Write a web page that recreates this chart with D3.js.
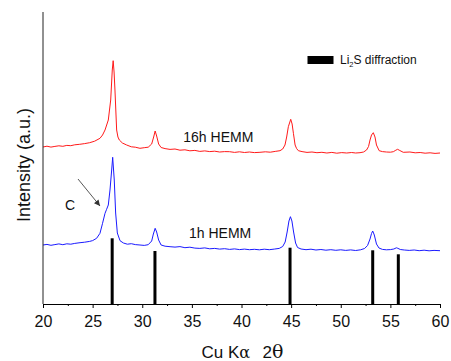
<!DOCTYPE html>
<html>
<head>
<meta charset="utf-8">
<script src="https://cdn.jsdelivr.net/npm/d3@7.9.0/dist/d3.min.js"></script>
<style>
  body { margin: 0; background: #fff; }
  svg { display: block; font-family: "Liberation Sans", Arial, sans-serif; }
</style>
</head>
<body>
<div id="chart"></div>
<script>
// XRD patterns (intensity in arbitrary units)
const twoTheta16h = [20.0, 20.4, 20.8, 21.2, 21.6, 22.0, 22.4, 22.8, 23.2, 23.7, 24.2, 24.7, 25.2, 25.74, 26.0, 26.25, 26.58, 26.82, 26.98, 27.07, 27.16, 27.25, 27.42, 27.55, 27.69, 28.0, 28.43, 28.9, 29.3, 29.77, 30.2, 30.6, 30.95, 31.15, 31.3, 31.45, 31.65, 31.9, 32.3, 32.8, 33.3, 33.8, 34.3, 34.8, 35.3, 35.8, 36.3, 36.8, 37.3, 37.8, 38.3, 38.8, 39.3, 39.8, 40.3, 40.8, 41.3, 41.86, 42.4, 42.9, 43.4, 43.88, 44.15, 44.38, 44.55, 44.72, 44.96, 45.1, 45.23, 45.4, 45.55, 45.73, 46.1, 46.6, 47.1, 47.6, 48.1, 48.6, 49.1, 49.6, 50.1, 50.6, 51.1, 51.5, 51.94, 52.3, 52.6, 52.8, 52.95, 53.1, 53.28, 53.45, 53.6, 53.87, 54.2, 54.6, 55.0, 55.3, 55.55, 55.73, 55.95, 56.3, 56.97, 57.5, 58.0, 58.5, 59.0, 59.5, 60.0];
const intensity16h = [157, 157.8, 156.9, 157.6, 158.2, 157.7, 158.6, 158.3, 159.2, 159.7, 160.4, 161.3, 162.8, 165.7, 169, 174, 184, 204, 234, 243.3, 232, 214, 174, 167, 164, 161, 159, 157.2, 156.8, 155.7, 156.3, 156.8, 160, 167, 173, 168, 160, 156.5, 155.4, 154.6, 155, 153.8, 154.2, 153.2, 153.6, 152.6, 153.1, 152.4, 152.8, 152, 152.4, 152.3, 151.6, 152.2, 151.5, 152, 151.4, 151.7, 152.2, 151.8, 152.6, 153.3, 155, 159, 167, 177.3, 184.7, 180, 170.7, 159, 155.5, 153.3, 152.4, 151.6, 152, 151.3, 151.7, 151, 151.6, 150.8, 151.4, 151, 151.5, 151, 151.3, 152, 154, 157.5, 164, 169, 171.3, 167, 159, 153.3, 152.4, 152, 151.8, 152.3, 153.8, 154.7, 153.5, 151.7, 152, 151.2, 151.5, 150.8, 151.2, 150.6, 151];

const twoTheta1h = [20.0, 20.4, 20.8, 21.2, 21.6, 22.0, 22.4, 22.8, 23.2, 23.73, 24.2, 24.7, 25.0, 25.4, 25.74, 26.0, 26.25, 26.41, 26.58, 26.75, 26.92, 27.02, 27.18, 27.32, 27.49, 27.76, 28.1, 28.5, 28.9, 29.3, 29.77, 30.2, 30.6, 30.95, 31.12, 31.3, 31.45, 31.65, 31.9, 32.3, 32.8, 33.3, 33.8, 34.3, 34.8, 35.3, 35.8, 36.3, 36.8, 37.3, 37.8, 38.3, 38.8, 39.3, 39.8, 40.3, 40.8, 41.3, 41.8, 42.3, 42.8, 43.3, 43.8, 44.15, 44.4, 44.6, 44.78, 44.93, 45.08, 45.25, 45.45, 45.65, 46.0, 46.5, 47.0, 47.5, 48.0, 48.5, 49.0, 49.5, 50.0, 50.5, 51.0, 51.5, 52.0, 52.4, 52.7, 52.95, 53.1, 53.22, 53.38, 53.6, 53.85, 54.2, 54.6, 55.0, 55.35, 55.6, 55.75, 56.0, 56.4, 56.9, 57.4, 57.9, 58.4, 58.9, 59.4, 60.0];
const intensity1h = [59, 59.6, 58.7, 59.4, 60.1, 59.3, 60.2, 59.8, 60.6, 61.3, 61.8, 62.6, 63.4, 65.7, 70.7, 80.7, 90.7, 94.7, 99, 114, 134, 146.7, 124, 91, 71, 63.3, 61, 59.8, 60.3, 59.4, 59, 58.6, 59.3, 63, 70, 75.7, 72, 64, 59, 57.8, 57.3, 56.9, 57.4, 56.3, 56.8, 55.9, 55.6, 56.1, 55.2, 55.6, 54.9, 55.3, 54.6, 55.1, 54.4, 54.9, 54.3, 54.7, 54.2, 54.8, 54.3, 54.9, 55.6, 57.5, 62, 72, 83, 87.3, 83, 72, 61, 56.5, 55, 54.3, 54.8, 54, 54.5, 53.8, 54.3, 53.7, 54.2, 53.6, 54.1, 53.5, 54.2, 55.5, 58.5, 65, 70.5, 73, 69, 60, 56, 54.6, 54.2, 54.4, 55, 56.2, 55.7, 54.5, 54, 53.6, 54, 53.3, 53.8, 53.2, 53.6, 53.3];

// Li2S reference reflections
const li2sPos = [26.97, 31.28, 44.89, 53.22, 55.8];
const li2sHeight = [65.7, 53, 56.3, 53.7, 49.7];

const xTicks = [20, 25, 30, 35, 40, 45, 50, 55, 60];
const xMinorTicks = [22.5, 27.5, 32.5, 37.5, 42.5, 47.5, 52.5, 57.5];

const width = 451;
const height = 361;
const plot = { left: 43, right: 440, top: 12, bottom: 304 };

const svg = d3.select("#chart")
  .append("svg")
  .attr("width", width)
  .attr("height", height);

const x = d3.scaleLinear().domain([20, 60]).range([plot.left, plot.right]);
const y = d3.scaleLinear().domain([0, 292]).range([plot.bottom, plot.top]);

const line = d3.line()
  .x((d) => x(d[0]))
  .y((d) => y(d[1]));

svg.append("path")
  .datum(d3.zip(twoTheta16h, intensity16h))
  .attr("d", line)
  .attr("fill", "none")
  .attr("stroke", "#ff1a1a")
  .attr("stroke-width", 1);

svg.append("path")
  .datum(d3.zip(twoTheta1h, intensity1h))
  .attr("d", line)
  .attr("fill", "none")
  .attr("stroke", "#1a1aff")
  .attr("stroke-width", 1);

// reference sticks
svg.append("g")
  .selectAll("rect")
  .data(d3.zip(li2sPos, li2sHeight))
  .join("rect")
  .attr("x", (d) => x(d[0]) - 1.5)
  .attr("y", (d) => y(d[1]))
  .attr("width", 3)
  .attr("height", (d) => y(0) - y(d[1]))
  .attr("fill", "#000");

// axes
const xAxis = svg.append("g")
  .attr("transform", `translate(0,${plot.bottom})`)
  .call(d3.axisBottom(x).tickValues(xTicks).tickSize(4).tickPadding(8).tickSizeOuter(0));
xAxis.select(".domain").attr("stroke", "#000");
xAxis.selectAll("text")
  .attr("font-size", 16)
  .attr("font-family", "Liberation Sans, Arial, sans-serif")
  .attr("fill", "#111");

svg.append("g")
  .attr("transform", `translate(0,${plot.bottom})`)
  .call(d3.axisBottom(x).tickValues(xMinorTicks).tickSize(2).tickFormat("").tickSizeOuter(0))
  .select(".domain").remove();

svg.append("line")
  .attr("x1", plot.left).attr("x2", plot.left)
  .attr("y1", plot.top).attr("y2", plot.bottom)
  .attr("stroke", "#222")
  .attr("stroke-width", 1);

// axis titles
const xTitle = svg.append("text")
  .attr("y", 358)
  .attr("font-size", 17)
  .attr("fill", "#111");
xTitle.append("tspan").attr("x", 201.5).text("Cu K");
xTitle.append("tspan").attr("font-family", "DejaVu Serif, serif").attr("font-size", 16).text("α");
xTitle.append("tspan").attr("x", 262.5).text("2");
xTitle.append("tspan").attr("x", 272).attr("font-family", "DejaVu Serif, serif").attr("font-size", 19).text("θ");

svg.append("text")
  .attr("transform", "translate(29.5,165) rotate(-90)")
  .attr("text-anchor", "middle")
  .attr("font-size", 18)
  .attr("fill", "#111")
  .text("Intensity (a.u.)");

// legend
svg.append("rect")
  .attr("x", 307.5).attr("y", 56)
  .attr("width", 26).attr("height", 8)
  .attr("fill", "#000");
const leg = svg.append("text")
  .attr("x", 340)
  .attr("y", 64)
  .attr("font-size", 12)
  .attr("fill", "#111");
leg.append("tspan").text("Li");
leg.append("tspan").attr("font-size", 7.5).attr("dy", 3).text("2");
leg.append("tspan").attr("dy", -3).text("S diffraction");

// curve labels
svg.append("text")
  .attr("x", 183.3).attr("y", 141.7)
  .attr("font-size", 14).attr("fill", "#111")
  .text("16h HEMM");
svg.append("text")
  .attr("x", 189).attr("y", 237.7)
  .attr("font-size", 14).attr("fill", "#111")
  .text("1h HEMM");

// carbon shoulder annotation
svg.append("text")
  .attr("x", 70).attr("y", 210)
  .attr("text-anchor", "middle")
  .attr("font-size", 14).attr("fill", "#111")
  .text("C");

svg.append("defs").append("marker")
  .attr("id", "arrow")
  .attr("viewBox", "0 0 10 10")
  .attr("refX", 10).attr("refY", 5)
  .attr("markerWidth", 7).attr("markerHeight", 6)
  .attr("markerUnits", "userSpaceOnUse")
  .attr("orient", "auto")
  .append("path")
  .attr("d", "M0,0 L10,5 L0,10 Z")
  .attr("fill", "#333");

svg.append("line")
  .attr("x1", 78).attr("y1", 179)
  .attr("x2", 100).attr("y2", 206)
  .attr("stroke", "#444")
  .attr("stroke-width", 0.9)
  .attr("marker-end", "url(#arrow)");
</script>
</body>
</html>
